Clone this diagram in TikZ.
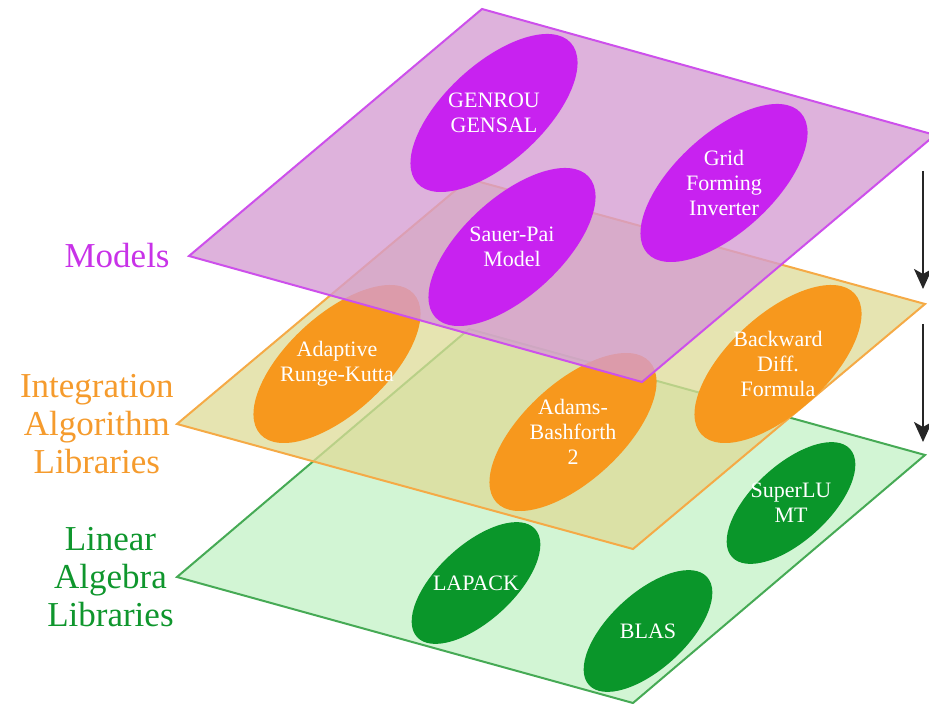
\documentclass[tikz,border=0pt]{standalone}
\usepackage{fontspec}
\setmainfont{Liberation Serif}
\usetikzlibrary{positioning, shapes.geometric, arrows.meta}

\definecolor{modelfill}{RGB}{213,156,210}
\definecolor{modeldraw}{RGB}{205,80,235}
\definecolor{modelblob}{RGB}{200,34,240}
\definecolor{modeltext}{RGB}{200,50,232}
\definecolor{intfill}{RGB}{222,220,152}
\definecolor{intdraw}{RGB}{245,170,70}
\definecolor{intblob}{RGB}{247,152,29}
\definecolor{inttext}{RGB}{245,155,45}
\definecolor{linfill}{RGB}{210,245,212}
\definecolor{lindraw}{RGB}{70,170,85}
\definecolor{linblob}{RGB}{10,150,42}
\definecolor{lintext}{RGB}{15,150,45}

\begin{document}
\begin{tikzpicture}[x=0.5pt, y=-0.5pt]
    % Define styles
    \tikzstyle{plane} = [line width=1pt]
    \tikzstyle{blob} = [ellipse, rotate=42.5, minimum width=104pt, minimum height=49pt, inner sep=0pt]
    \tikzstyle{blob_small} = [ellipse, rotate=42.5, minimum width=80pt, minimum height=38pt, inner sep=0pt]
    \tikzstyle{blobtext} = [text=white, align=center, inner sep=0pt, font=\fontsize{11}{12.5}\selectfont]
    \tikzstyle{layertext} = [align=center, inner sep=0pt, font=\fontsize{17.5}{18.8}\selectfont]
    \tikzstyle{downarrow} = [-{Stealth[length=10pt, width=9pt, inset=2.5pt]}, line width=1.2pt, black!85]

    \useasboundingbox (0,0) rectangle (929,704);

    % LINEAR ALGEBRA LAYER
    \coordinate (lin_left) at (177,577);
    \coordinate (lin_top) at (469,329);
    \coordinate (lin_right) at (925,455);
    \coordinate (lin_bottom) at (633,703);
    \filldraw[plane, fill=linfill, draw=lindraw] (lin_left) -- (lin_top) -- (lin_right) -- (lin_bottom) -- cycle;

    \node (superlu_blob) [blob_small, fill=linblob] at (791,503) {};
    \node (superlu) [blobtext] at (superlu_blob) {SuperLU\\MT};
    \node (lapack_blob) [blob_small, fill=linblob] at (476,583) {};
    \node (lapack) [blobtext] at (lapack_blob) {LAPACK};
    \node (blas_blob) [blob_small, fill=linblob] at (648,631) {};
    \node (blas) [blobtext] at (blas_blob) {BLAS};

    % INTEGRATION LAYER
    \coordinate (int_left) at (177,424);
    \coordinate (int_top) at (469,179);
    \coordinate (int_right) at (925,304);
    \coordinate (int_bottom) at (633,549);
    \filldraw[plane, fill=intfill, fill opacity=0.76, draw=intdraw] (int_left) -- (int_top) -- (int_right) -- (int_bottom) -- cycle;

    \node (ark_blob) [blob, fill=intblob] at (337,364) {};
    \node (ark) [blobtext] at (ark_blob) {Adaptive\\Runge-Kutta};
    \node (ab2_blob) [blob, fill=intblob] at (573,432) {};
    \node (ab2) [blobtext] at (ab2_blob) {Adams-\\Bashforth\\2};
    \node (bdf_blob) [blob, fill=intblob] at (778,364) {};
    \node (bdf) [blobtext] at (bdf_blob) {Backward\\Diff.\\Formula};

    % MODELS LAYER
    \coordinate (mod_left) at (189,256);
    \coordinate (mod_top) at (482,9);
    \coordinate (mod_right) at (935,135);
    \coordinate (mod_bottom) at (642,382);
    \filldraw[plane, fill=modelfill, fill opacity=0.78, draw=modeldraw] (mod_left) -- (mod_top) -- (mod_right) -- (mod_bottom) -- cycle;

    \node (genrou_blob) [blob, fill=modelblob] at (494,113) {};
    \node (genrou) [blobtext] at (genrou_blob) {GENROU\\GENSAL};
    \node (sauer_blob) [blob, fill=modelblob] at (512,247) {};
    \node (sauer) [blobtext] at (sauer_blob) {Sauer-Pai\\Model};
    \node (gfm_blob) [blob, fill=modelblob] at (724,183) {};
    \node (gfm) [blobtext] at (gfm_blob) {Grid\\Forming\\Inverter};

    % Layer names
    \node (models_label) [layertext, text=modeltext, left=9.5pt of mod_left] {Models};
    \node (int_label) [layertext, text=inttext, left=1.5pt of int_left] {Integration\\Algorithm\\Libraries};
    \node (lin_label) [layertext, text=lintext, left=1.5pt of lin_left] {Linear\\Algebra\\Libraries};

    % Arrows on the right
    \coordinate (arrow1_start) at (923,171);
    \coordinate (arrow1_end) at (923,289);
    \coordinate (arrow2_start) at (923,324);
    \coordinate (arrow2_end) at (923,442);
    \draw[downarrow] (arrow1_start) -- (arrow1_end);
    \draw[downarrow] (arrow2_start) -- (arrow2_end);

\end{tikzpicture}
\end{document}
